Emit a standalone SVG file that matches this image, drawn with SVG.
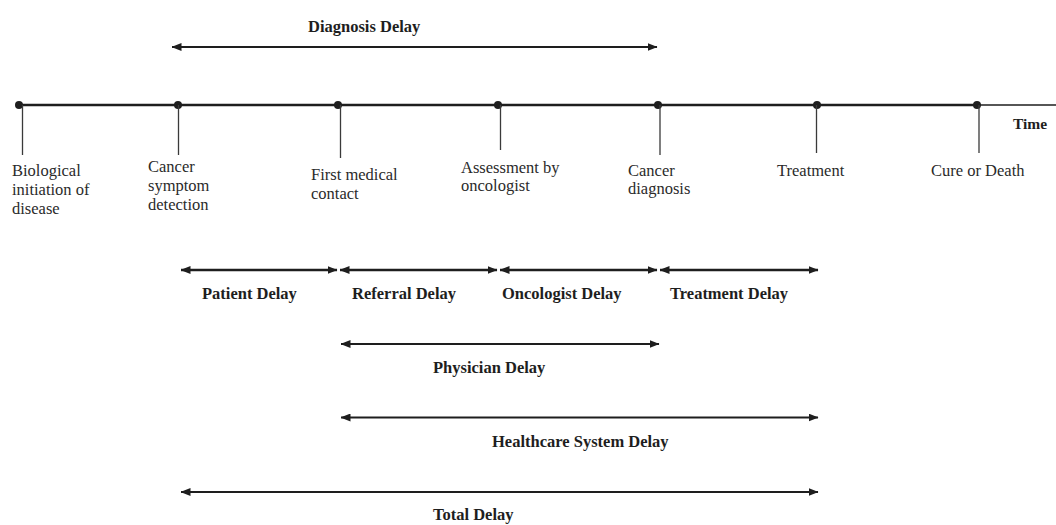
<svg xmlns="http://www.w3.org/2000/svg" width="1056" height="525" viewBox="0 0 1056 525">
  <defs>
    <marker id="head" viewBox="0 0 10 8" refX="9.5" refY="4" markerWidth="10" markerHeight="8" markerUnits="userSpaceOnUse" orient="auto-start-reverse">
      <path d="M0,0 L10,4 L0,8 Z" fill="#1e1e1e"/>
    </marker>
  </defs>
  <style>
    .label { font-family: "Liberation Serif", "Times New Roman", serif; font-size: 16.5px; fill: #2a2a2a; }
    .delay { font-family: "Liberation Serif", "Times New Roman", serif; font-size: 16.5px; font-weight: bold; fill: #1e1e1e; }
    .axis { stroke: #1e1e1e; stroke-width: 2.6; fill: none; }
    .tick { stroke: #3a3a3a; stroke-width: 1.3; }
    .dot { fill: #1e1e1e; }
    .span { stroke: #1e1e1e; stroke-width: 2; fill: none; marker-start: url(#head); marker-end: url(#head); }
    .span.thick { stroke-width: 2.6; }
  </style>
  <rect width="1056" height="525" fill="#ffffff"/>

  <!-- time axis -->
  <g id="axis">
    <line class="axis" x1="18" y1="105" x2="977" y2="105"/>
    <line class="axis" x1="977" y1="105" x2="1056" y2="105" style="stroke-width:1.6"/>
    <text class="delay" x="1013" y="129" style="font-size:15.5px">Time</text>
  </g>

  <!-- events on the time axis -->
  <g id="event-initiation">
    <circle class="dot" cx="19" cy="105" r="4"/>
    <line class="tick" x1="22.5" y1="105" x2="22.5" y2="155"/>
    <text class="label" x="12" y="176">Biological</text>
    <text class="label" x="12" y="195">initiation of</text>
    <text class="label" x="12" y="214">disease</text>
  </g>
  <g id="event-symptom">
    <circle class="dot" cx="178" cy="105" r="4"/>
    <line class="tick" x1="178.5" y1="105" x2="178.5" y2="155"/>
    <text class="label" x="148" y="172">Cancer</text>
    <text class="label" x="148" y="191">symptom</text>
    <text class="label" x="148" y="210">detection</text>
  </g>
  <g id="event-contact">
    <circle class="dot" cx="338" cy="105" r="4"/>
    <line class="tick" x1="340.5" y1="105" x2="340.5" y2="158"/>
    <text class="label" x="311" y="180">First medical</text>
    <text class="label" x="311" y="199">contact</text>
  </g>
  <g id="event-assessment">
    <circle class="dot" cx="498" cy="105" r="4"/>
    <line class="tick" x1="500.5" y1="105" x2="500.5" y2="150"/>
    <text class="label" x="461" y="173">Assessment by</text>
    <text class="label" x="461" y="191">oncologist</text>
  </g>
  <g id="event-diagnosis">
    <circle class="dot" cx="658" cy="105" r="4"/>
    <line class="tick" x1="660" y1="105" x2="660" y2="155"/>
    <text class="label" x="628" y="176">Cancer</text>
    <text class="label" x="628" y="194">diagnosis</text>
  </g>
  <g id="event-treatment">
    <circle class="dot" cx="817" cy="105" r="4"/>
    <line class="tick" x1="816.5" y1="105" x2="816.5" y2="153"/>
    <text class="label" x="777" y="176">Treatment</text>
  </g>
  <g id="event-outcome">
    <circle class="dot" cx="977" cy="105" r="4"/>
    <line class="tick" x1="979" y1="105" x2="979" y2="153"/>
    <text class="label" x="931" y="176">Cure or Death</text>
  </g>

  <!-- delay spans -->
  <g id="connectors">
    <line class="span" x1="172" y1="47" x2="657" y2="47"/>
    <line class="span thick" x1="181" y1="270" x2="337" y2="270"/>
    <line class="span thick" x1="340" y1="270" x2="497" y2="270"/>
    <line class="span thick" x1="500" y1="270" x2="657" y2="270"/>
    <line class="span thick" x1="660" y1="270" x2="818" y2="270"/>
    <line class="span" x1="341" y1="344" x2="659" y2="344"/>
    <line class="span" x1="341" y1="417.5" x2="818" y2="417.5"/>
    <line class="span" x1="181" y1="492" x2="818" y2="492"/>
  </g>

  <!-- delay labels -->
  <g id="delay-labels">
    <text class="delay" x="308" y="32">Diagnosis Delay</text>
    <text class="delay" x="202" y="299">Patient Delay</text>
    <text class="delay" x="352" y="299">Referral Delay</text>
    <text class="delay" x="502" y="299">Oncologist Delay</text>
    <text class="delay" x="670" y="299">Treatment Delay</text>
    <text class="delay" x="433" y="373">Physician Delay</text>
    <text class="delay" x="492" y="447">Healthcare System Delay</text>
    <text class="delay" x="433" y="520">Total Delay</text>
  </g>
</svg>
